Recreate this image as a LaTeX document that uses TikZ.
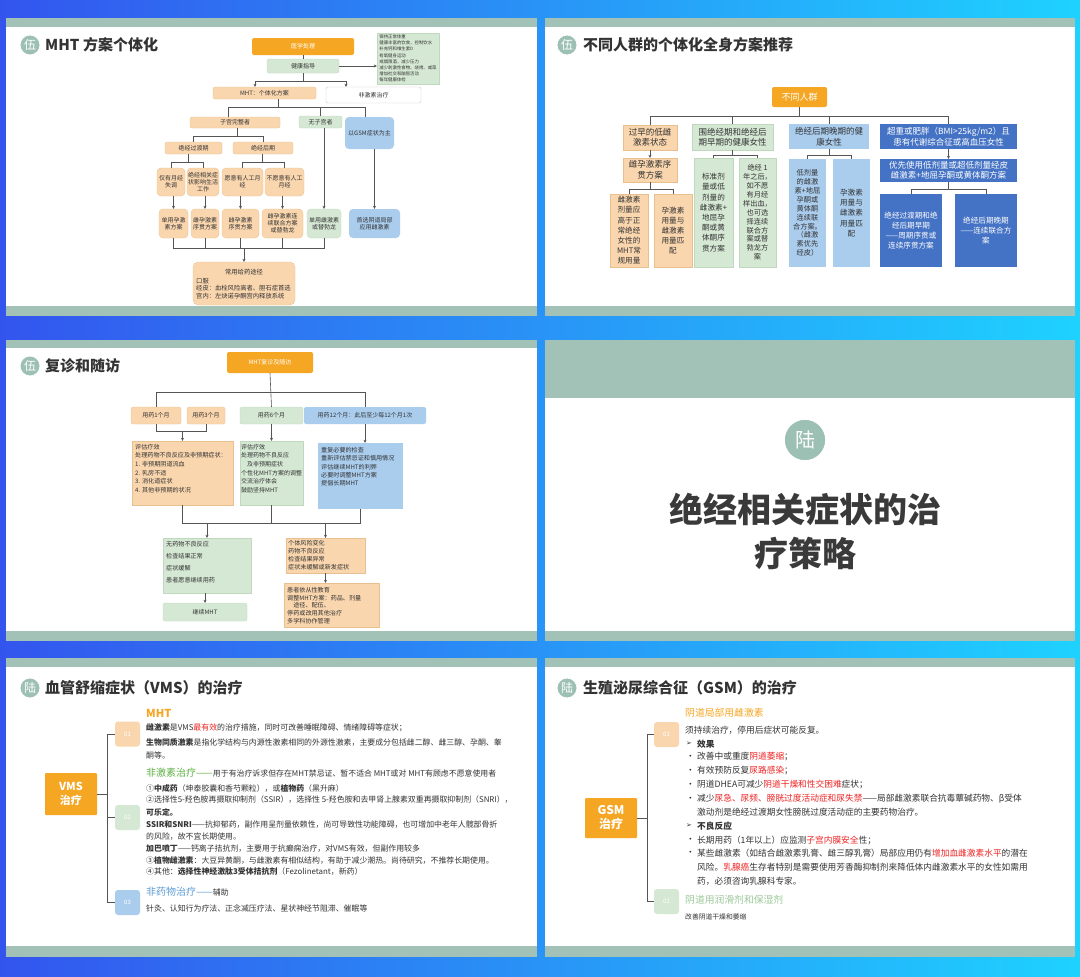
\documentclass[tikz,border=0pt]{standalone}
\usepackage{fontspec}
\setmainfont{Noto Sans CJK SC}
\newfontfamily\dejavu{DejaVu Sans}
\usetikzlibrary{arrows.meta}
\definecolor{bgL}{HTML}{3355EE}
\definecolor{bgR}{HTML}{1ED2FF}
\definecolor{band}{HTML}{A3C2B7}
\definecolor{circ}{HTML}{9DC0B4}
\definecolor{orD}{HTML}{F5A623}
\definecolor{orL}{HTML}{FAD6AE}
\definecolor{orB}{HTML}{E8C090}
\definecolor{grL}{HTML}{D5E8D4}
\definecolor{grB}{HTML}{C0D8BE}
\definecolor{blL}{HTML}{AACDEE}
\definecolor{blD}{HTML}{4472C4}
\definecolor{txt}{HTML}{333333}
\definecolor{txtB}{HTML}{3A3A3A}
\definecolor{redt}{HTML}{EE2222}
\definecolor{grT}{HTML}{5DB043}
\definecolor{blT}{HTML}{5B9BD5}
\definecolor{grT2}{HTML}{9CC89A}
\definecolor{lnc}{HTML}{555555}
\newcommand\fs[2]{\fontsize{#1}{#2}\selectfont}
\newcommand\rtx[1]{\textcolor{redt}{#1}}
\newcommand\bx[7]{\node[#1,minimum width={(#5-#3)*1pt},minimum height={(#6-#4)*1pt}] (#2) at ({(#3+#5)/2},{(#4+#6)/2}) {#7};}
\begin{document}
\begin{tikzpicture}[x=1pt,y=-1pt,
 box/.style={inner sep=0pt,outer sep=0pt,align=center,text=txt,rounded corners=2pt},
 ob/.style={box,fill=orD,text=white},
 lo/.style={box,fill=orL,draw=orB,line width=0.3pt},
 lg/.style={box,fill=grL,draw=grB,line width=0.3pt},
 lb/.style={box,fill=blL},
 db/.style={box,fill=blD,text=white,rounded corners=0pt},
 wb/.style={box,fill=white,draw=black!20,line width=0.4pt},
 sq/.style={rounded corners=0pt},
 ln/.style={draw=lnc,line width=0.6pt},
 arr/.style={ln,-{Stealth[length=3.2pt,width=3pt]}},
 tl/.style={anchor=west,inner sep=0pt,text=txt},
 tnw/.style={anchor=north west,inner sep=0pt,text=txt,align=left},
 ttl/.style={anchor=west,inner sep=0pt,text=txt,font=\bfseries\fs{15}{16}},
 tc/.style={circle,fill=circ,draw=white,line width=0.8pt,minimum size=20pt,inner sep=0pt,text=white,font=\fs{12}{12}},
 badge/.style={inner sep=0pt,rounded corners=3pt,minimum width=25pt,minimum height=25pt,text=white,font=\fs{6}{7}},
 f6/.style={font=\fs{6}{7.2}},
 f8/.style={font=\fs{8.5}{10.5}},
 f7/.style={font=\fs{7.6}{10.2}},
 f7s/.style={font=\fs{7.2}{8.9}},
]
\useasboundingbox (0,0) rectangle (1080,977);
\shade[left color=bgL,right color=bgR] (0,0) rectangle (1080,977);
% panels
\fill[band] (6,18) rectangle (537,316);
\fill[white] (6,27) rectangle (537,306);
\fill[band] (545,18) rectangle (1075,316);
\fill[white] (545,27) rectangle (1075,306);
\fill[band] (6,340) rectangle (537,641);
\fill[white] (6,348) rectangle (537,631);
\fill[band] (545,340) rectangle (1075,641);
\fill[white] (545,398) rectangle (1075,631);
\fill[band] (6,658) rectangle (537,957);
\fill[white] (6,667) rectangle (537,946);
\fill[band] (545,658) rectangle (1075,957);
\fill[white] (545,667) rectangle (1075,946);

%%%%%%%% Panel 1
\node[tc] (c1) at (30,45) {伍};
\node[ttl] (t1) at (45,45) {MHT 方案个体化};
\bx{ob,f6}{p1a}{252}{38}{354}{55}{医学处理}
\bx{lg,f6}{p1b}{267}{59}{339}{73}{健康指导}
\bx{lg,sq,align=left,font=\fs{4.4}{6.2}}{p1c}{377}{33}{439}{84}{保持正常体重\\健康丰富的饮食，控制饮水\\补充钙和维生素D\\有氧健身运动\\戒烟限酒，减少压力\\减少刺激性食物、烧烤、咸菜\\增加社交和脑智活动\\每年健康体检}
\bx{lo,f6}{p1d}{213}{87}{316}{99}{MHT：个体化方案}
\bx{wb,f6}{p1e}{326}{87}{421}{103}{非激素治疗}
\bx{lo,f6}{p1f}{190}{117}{280}{128}{子宫完整者}
\bx{lg,f6}{p1g}{299}{116}{342}{128}{无子宫者}
\bx{lb,f6,rounded corners=4pt}{p1h}{345}{117}{394}{149}{以GSM症状为主}
\bx{lo,f6}{p1i}{165}{142}{222}{154}{绝经过渡期}
\bx{lo,f6}{p1j}{233}{142}{293}{154}{绝经后期}
\bx{lo,f6,rounded corners=4pt}{p1k}{157}{168}{185}{196}{仅有月经\\失调}
\bx{lo,f6,rounded corners=4pt}{p1l}{187}{168}{219}{196}{绝经相关症\\状影响生活\\工作}
\bx{lo,f6,rounded corners=4pt}{p1m}{222}{168}{263}{196}{愿意有人工月\\经}
\bx{lo,f6,rounded corners=4pt}{p1n}{265}{168}{304}{196}{不愿意有人工\\月经}
\bx{lo,f6,rounded corners=4pt}{p1o}{159}{209}{188}{238}{单用孕激\\素方案}
\bx{lo,f6,rounded corners=4pt}{p1p}{191}{209}{219}{238}{雌孕激素\\序贯方案}
\bx{lo,f6,rounded corners=4pt}{p1q}{222}{209}{259}{238}{雌孕激素\\序贯方案}
\bx{lo,f6,rounded corners=4pt}{p1r}{262}{209}{303}{238}{雌孕激素连\\续联合方案\\或替勃龙}
\bx{lg,f6,rounded corners=4pt}{p1s}{307}{209}{341}{238}{单用雌激素\\或替勃龙}
\bx{lb,f6,rounded corners=4pt}{p1t}{349}{209}{400}{238}{首选阴道局部\\应用雌激素}
\bx{lo,rounded corners=5pt}{p1u}{193}{262}{295}{305}{}
\node[inner sep=0pt,text=txt,font=\fs{6.3}{7}] (p1u1) at (244,272) {常用给药途径};
\node[tnw,font=\fs{6.3}{7.6}] (p1u2) at (196,278) {口服\\经皮：血栓风险高者、胆石症首选\\宫内：左炔诺孕酮宫内释放系统};
% connectors panel 1
\draw[ln] (p1a) -- (p1b);
\draw[arr] (p1b.east) -- (p1b.east -| p1c.west);
\coordinate (j1) at (303,81);
\coordinate (j1a) at (255,81);
\coordinate (j1b) at (346,81);
\draw[ln] (p1b.south) -- (j1);
\draw[ln] (j1a) -- (j1b);
\draw[arr] (j1a) -- (j1a |- p1d.north);
\draw[arr] (j1b) -- (j1b |- p1e.north);
\coordinate (j2) at (278,107);
\coordinate (j2a) at (228,107);
\coordinate (j2b) at (365,107);
\draw[ln] (j2 |- p1d.south) -- (j2);
\draw[ln] (j2a) -- (j2b);
\draw[ln] (j2a) -- (j2a |- p1f.north);
\draw[ln] (p1g.north |- j2) -- (p1g.north);
\draw[ln] (j2b) -- (j2b |- p1h.north);
\coordinate (j3) at (237,136);
\draw[ln] (j3 |- p1f.south) -- (j3);
\draw[ln] (p1i.north |- j3) -- (p1j.north |- j3);
\draw[ln] (p1i.north |- j3) -- (p1i.north);
\draw[ln] (p1j.north |- j3) -- (p1j.north);
\coordinate (j4) at (188,162);
\coordinate (j4b) at (262,162);
\draw[ln] (j4 |- p1i.south) -- (j4);
\draw[ln] (p1k.north |- j4) -- (p1l.north |- j4);
\draw[ln] (p1k.north |- j4) -- (p1k.north);
\draw[ln] (p1l.north |- j4) -- (p1l.north);
\draw[ln] (j4b |- p1j.south) -- (j4b);
\draw[ln] (p1m.north |- j4) -- (p1n.north |- j4);
\draw[ln] (p1m.north |- j4) -- (p1m.north);
\draw[ln] (p1n.north |- j4) -- (p1n.north);
\draw[arr] (p1o.north |- p1k.south) -- (p1o.north);
\draw[arr] (p1p.north |- p1l.south) -- (p1p.north);
\draw[arr] (p1q.north |- p1m.south) -- (p1q.north);
\draw[arr] (p1r.north |- p1n.south) -- (p1r.north);
\draw[arr] (p1s.north |- p1g.south) -- (p1s.north);
\draw[arr] (p1t.north |- p1h.south) -- (p1t.north);
\coordinate (j5) at (244,248);
\draw[ln] (p1o.south) -- (p1o.south |- j5) -- (p1s.south |- j5) -- (p1s.south);
\draw[ln] (p1p.south) -- (p1p.south |- j5);
\draw[ln] (p1q.south) -- (p1q.south |- j5);
\draw[ln] (p1r.south) -- (p1r.south |- j5);
\draw[arr] (j5) -- (p1u.north);

%%%%%%%% Panel 2
\node[tc] (c2) at (567,45) {伍};
\node[ttl] (t2) at (583,45) {不同人群的个体化全身方案推荐};
\bx{ob,font=\fs{9}{10}}{p2a}{772}{87}{827}{107}{不同人群}
\bx{lo,sq,f8}{p2b}{623}{125}{677}{150}{过早的低雌\\激素状态}
\bx{lo,sq,f8}{p2c}{623}{158}{677}{182}{雌孕激素序\\贯方案}
\bx{lo,sq,f7}{p2d}{610}{194}{648}{267}{雌激素\\剂量应\\高于正\\常绝经\\女性的\\MHT常\\规用量}
\bx{lo,sq,f7}{p2e}{654}{194}{692}{267}{孕激素\\用量与\\雌激素\\用量匹\\配}
\bx{lg,sq,f8}{p2f}{692}{124}{773}{150}{围绝经期和绝经后\\期早期的健康女性}
\bx{lg,sq,f7}{p2g}{694}{158}{733}{267}{标准剂\\量或低\\剂量的\\雌激素+\\地屈孕\\酮或黄\\体酮序\\贯方案}
\bx{lg,sq,f7s}{p2h}{739}{158}{776}{267}{绝经 1\\年之后，\\如不愿\\有月经\\样出血，\\也可选\\择连续\\联合方\\案或替\\勃龙方\\案}
\bx{lb,sq,f8}{p2i}{789}{124}{869}{149}{绝经后期晚期的健\\康女性}
\bx{lb,sq,f7s}{p2j}{789}{159}{826}{267}{低剂量\\的雌激\\素+地屈\\孕酮或\\黄体酮\\连续联\\合方案。\\（雌激\\素优先\\经皮）}
\bx{lb,sq,f7}{p2k}{833}{159}{870}{267}{孕激素\\用量与\\雌激素\\用量匹\\配}
\bx{db,f8}{p2l}{880}{124}{1017}{149}{超重或肥胖（BMI>25kg/m2）且\\患有代谢综合征或高血压女性}
\bx{db,f8}{p2m}{880}{159}{1017}{182}{优先使用低剂量或超低剂量经皮\\雌激素+地屈孕酮或黄体酮方案}
\bx{db,f7}{p2n}{880}{194}{942}{267}{绝经过渡期和绝\\经后期早期\\——周期序贯或\\连续序贯方案}
\bx{db,f7}{p2o}{955}{194}{1017}{267}{绝经后期晚期\\——连续联合方\\案}
\coordinate (q0) at (800,116);
\coordinate (r1) at (0,189);
\coordinate (r2) at (0,155);
\draw[ln] (p2a.south) -- (p2a.south |- q0);
\draw[ln] (p2b.north |- q0) -- (p2l.north |- q0);
\draw[ln] (p2b.north |- q0) -- (p2b.north);
\draw[ln] (p2f.north |- q0) -- (p2f.north);
\draw[ln] (p2i.north |- q0) -- (p2i.north);
\draw[ln] (p2l.north |- q0) -- (p2l.north);
\draw[arr] (p2b) -- (p2c);
\draw[arr] (p2l) -- (p2m);
\draw[ln] (p2c.south) -- (p2c.south |- r1);
\draw[ln] (p2d.north |- r1) -- (p2e.north |- r1);
\draw[ln] (p2d.north |- r1) -- (p2d.north);
\draw[ln] (p2e.north |- r1) -- (p2e.north);
\draw[ln] (p2f.south) -- (p2f.south |- r2);
\draw[ln] (p2g.north |- r2) -- (p2h.north |- r2);
\draw[ln] (p2g.north |- r2) -- (p2g.north);
\draw[ln] (p2h.north |- r2) -- (p2h.north);
\draw[ln] (p2i.south) -- (p2i.south |- r2);
\draw[ln] (p2j.north |- r2) -- (p2k.north |- r2);
\draw[ln] (p2j.north |- r2) -- (p2j.north);
\draw[ln] (p2k.north |- r2) -- (p2k.north);
\draw[ln] (p2m.south) -- (p2m.south |- r1);
\draw[ln] (p2n.north |- r1) -- (p2o.north |- r1);
\draw[ln] (p2n.north |- r1) -- (p2n.north);
\draw[ln] (p2o.north |- r1) -- (p2o.north);

%%%%%%%% Panel 3
\node[tc] (c3) at (30,366) {伍};
\node[ttl] (t3) at (45,366) {复诊和随访};
\bx{ob,f6}{p3a}{227}{352}{313}{373}{MHT复诊及随访}
\bx{lo,f6}{p3b}{131}{407}{181}{424}{用药1个月}
\bx{lo,f6}{p3c}{187}{407}{225}{424}{用药3个月}
\bx{lg,f6}{p3d}{240}{407}{303}{424}{用药6个月}
\bx{lb,f6}{p3e}{304}{407}{426}{424}{用药12个月：此后至少每12个月1次}
\bx{lo,sq}{p3f}{132}{441}{233}{505}{}
\bx{lg,sq}{p3g}{240}{441}{303}{505}{}
\bx{lb,sq}{p3h}{318}{443}{403}{509}{}
\bx{lg,sq}{p3i}{163}{538}{251}{593}{}
\bx{lg,f6}{p3j}{163}{603}{247}{621}{继续MHT}
\bx{lo,sq}{p3k}{286}{538}{365}{573}{}
\bx{lo,sq}{p3l}{284}{583}{379}{627}{}
\node[tnw,font=\fs{6.1}{8.6}] (p3ft) at (135,444) {评估疗效\\处理药物不良反应及非预期症状：\\1. 非预期阴道流血\\2. 乳房不适\\3. 消化道症状\\4. 其他非预期的状况};
\node[tnw,font=\fs{6}{8.6}] (p3gt) at (241,444) {评估疗效\\处理药物不良反应\\\quad 及非预期症状\\个性化MHT方案的调整\\交流治疗体会\\鼓励坚持MHT};
\node[tnw,font=\fs{6.1}{8.4}] (p3ht) at (321,447) {重复必要的检查\\重新评估禁忌证和慎用情况\\评估继续MHT的利弊\\必要时调整MHT方案\\提倡长期MHT};
\node[tnw,font=\fs{6.1}{12.2}] (p3it) at (166,541) {无药物不良反应\\检查结果正常\\症状缓解\\患者愿意继续用药};
\node[tnw,font=\fs{6.1}{8.2}] (p3kt) at (288,540) {个体风险变化\\药物不良反应\\检查结果异常\\症状未缓解或新发症状};
\node[tnw,font=\fs{6.1}{7.8}] (p3lt) at (287,587) {患者依从性教育\\调整MHT方案：药品、剂量\\\quad 途径、配伍、\\停药或改用其他治疗\\多学科协作管理};
\coordinate (s1) at (0,392);
\coordinate (s2) at (0,431);
\coordinate (s3) at (0,523);
\draw[ln] (p3a.south) -- (p3d.north);
\draw[ln] (p3b.north |- s1) -- (p3e.north |- s1);
\draw[ln] (p3b.north |- s1) -- (p3b.north);
\draw[ln] (p3e.north |- s1) -- (p3e.north);
\draw[ln] (p3b.south) -- (p3b.south |- s2) -- (p3c.south |- s2) -- (p3c.south);
\draw[arr] (p3f.north |- s2) -- (p3f.north);
\draw[arr] (p3d.south) -- (p3g.north);
\draw[arr] (p3e.south) -- (p3e.south |- p3h.north);
\draw[ln] (p3f.south) -- (p3f.south |- s3) -- (p3h.south |- s3) -- (p3h.south);
\draw[ln] (p3g.south) -- (p3g.south |- s3);
\draw[arr] (p3i.north |- s3) -- (p3i.north);
\draw[arr] (p3k.north |- s3) -- (p3k.north);
\draw[arr] (p3j.north |- p3i.south) -- (p3j.north);
\draw[arr] (p3k.south) -- (p3k.south |- p3l.north);

%%%%%%%% Panel 4
\node[circle,fill=circ,draw=white,line width=1.5pt,minimum size=42pt,inner sep=0pt,text=white,font=\fs{20}{20}] (c4) at (805,440) {陆};
\node[align=center,inner sep=0pt,text=txtB,font=\bfseries\fs{34}{44}] (t4) at (805,531) {绝经相关症状的治\\疗策略};

%%%%%%%% Panel 5
\node[tc] (c5) at (30,688) {陆};
\node[ttl] (t5) at (45,688) {血管舒缩症状（VMS）的治疗};
\bx{ob,font=\bfseries\fs{11}{14},rounded corners=1pt}{vms}{45}{773}{97}{815}{VMS\\治疗}
\node[badge,fill=orL] (b1) at (127.5,734) {01};
\node[badge,fill=grL] (b2) at (127.5,817.5) {02};
\node[badge,fill=blL] (b3) at (127.5,902.5) {03};
\coordinate (k5) at (107,795);
\draw[ln] (b1.west) -- (b1.west -| k5) -- (b3.west -| k5) -- (b3.west);
\draw[ln] (b2.west) -- (b2.west -| k5);
\draw[ln] (vms.east) -- (vms.east -| k5);
\begin{scope}[every node/.style={tl,font=\fs{7.9}{9}}]
\node[text=orD,font=\bfseries\fs{11}{12}] (v0) at (146,713) {MHT};
\node (v1) at (146,728) {\textbf{雌激素}是VMS\rtx{最有效}的治疗措施，同时可改善睡眠障碍、情绪障碍等症状；};
\node (v2) at (146,742) {\textbf{生物同质激素}是指化学结构与内源性激素相同的外源性激素，主要成分包括雌二醇、雌三醇、孕酮、睾};
\node (v3) at (146,755) {酮等。};
\node (v4) at (146,773) {{\color{grT}\fs{10}{11}非激素治疗——}用于有治疗诉求但存在MHT禁忌证、暂不适合 MHT或对 MHT有顾虑不愿意使用者};
\node (v5) at (146,788) {①\textbf{中成药}（坤泰胶囊和香芍颗粒），或\textbf{植物药}（黑升麻）};
\node (v6) at (146,800) {②选择性5-羟色胺再摄取抑制剂（SSIR），选择性 5-羟色胺和去甲肾上腺素双重再摄取抑制剂（SNRI），};
\node (v7) at (146,812) {\textbf{可乐定。}};
\node (v8) at (146,825) {\textbf{SSIR和SNRI}——抗抑郁药，副作用呈剂量依赖性，尚可导致性功能障碍，也可增加中老年人髋部骨折};
\node (v9) at (146,837) {的风险，故不宜长期使用。};
\node (v10) at (146,849) {\textbf{加巴喷丁}——钙离子拮抗剂，主要用于抗癫痫治疗，对VMS有效，但副作用较多};
\node (v11) at (146,861) {③\textbf{植物雌激素}：大豆异黄酮，与雌激素有相似结构，有助于减少潮热。尚待研究，不推荐长期使用。};
\node (v12) at (146,872) {④其他：\textbf{选择性神经激肽3受体拮抗剂}（Fezolinetant，新药）};
\node (v13) at (146,892) {{\color{blT}\fs{10}{11}非药物治疗——}辅助};
\node (v14) at (146,908) {针灸、认知行为疗法、正念减压疗法、星状神经节阻滞、催眠等};
\end{scope}

%%%%%%%% Panel 6
\node[tc] (c6) at (567,688) {陆};
\node[ttl] (t6) at (583,688) {生殖泌尿综合征（GSM）的治疗};
\bx{ob,font=\bfseries\fs{12}{14},rounded corners=1pt}{gsm}{585}{798}{637}{838}{GSM\\治疗}
\node[badge,fill=orL] (g1) at (666.5,734.5) {01};
\node[badge,fill=grL] (g2) at (666.5,901.5) {02};
\coordinate (k6) at (647,818);
\draw[ln] (g1.west) -- (g1.west -| k6) -- (g2.west -| k6) -- (g2.west);
\draw[ln] (gsm.east) -- (gsm.east -| k6);
\begin{scope}[every node/.style={tl,font=\fs{8.7}{10}}]
\node[text=orD,font=\fs{9.8}{11}] (w0) at (685,713) {阴道局部用雌激素};
\node (w1) at (685,730) {须持续治疗，停用后症状可能反复。};
\node[font=\dejavu\fs{7}{8}] (w2a) at (686,744) {➢};
\node (w2) at (697,744) {\textbf{效果}};
\node (w3a) at (686,757) {•};
\node (w3) at (697,757) {改善中或重度\rtx{阴道萎缩}；};
\node (w4a) at (686,771) {•};
\node (w4) at (697,771) {有效预防反复\rtx{尿路感染}；};
\node (w5a) at (686,785) {•};
\node (w5) at (697,785) {阴道DHEA可减少\rtx{阴道干燥和性交困难}症状；};
\node (w6a) at (686,799) {•};
\node (w6) at (697,799) {减少\rtx{尿急、尿频、膀胱过度活动症和尿失禁}——局部雌激素联合抗毒蕈碱药物、β受体};
\node (w7) at (697,812) {激动剂是绝经过渡期女性膀胱过度活动症的主要药物治疗。};
\node[font=\dejavu\fs{7}{8}] (w8a) at (686,826) {➢};
\node (w8) at (697,826) {\textbf{不良反应}};
\node (w9a) at (686,840) {•};
\node (w9) at (697,840) {长期用药（1年以上）应监测\rtx{子宫内膜安全}性；};
\node (w10a) at (686,853) {•};
\node (w10) at (697,853) {某些雌激素（如结合雌激素乳膏、雌三醇乳膏）局部应用仍有\rtx{增加血雌激素水平}的潜在};
\node (w11) at (697,867) {风险。\rtx{乳腺癌}生存者特别是需要使用芳香酶抑制剂来降低体内雌激素水平的女性如需用};
\node (w12) at (697,881) {药，必须咨询乳腺科专家。};
\node[text=grT2,font=\fs{9.8}{11}] (w13) at (685,900) {阴道用润滑剂和保湿剂};
\node[font=\fs{6.8}{8}] (w14) at (685,917) {改善阴道干燥和萎缩};
\end{scope}
\end{tikzpicture}
\end{document}
